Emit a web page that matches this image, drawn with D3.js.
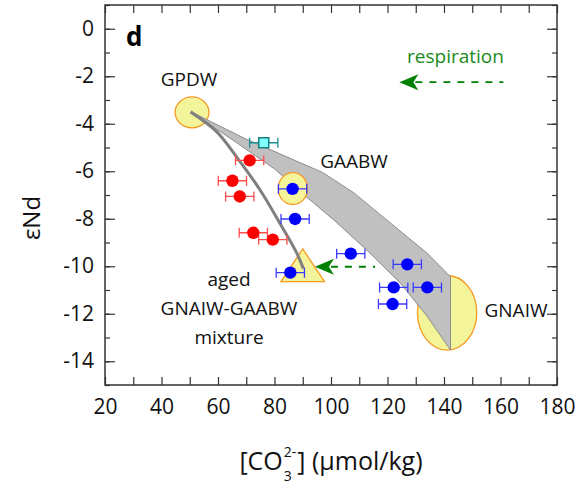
<html>
<head>
<script src="https://cdn.jsdelivr.net/npm/d3@7"></script>
<style>
  body { margin: 0; background: #fff; }
  text { font-family: "Open Sans", sans-serif; }
</style>
</head>
<body>
<script>
// values
const redX = [71.2, 65.1, 67.7, 72.5, 79.4];
const redY = [-5.54, -6.4, -7.06, -8.59, -8.88];
const blueX = [86.4, 87.3, 107.0, 127.0, 85.6, 122.2, 134.1, 121.8];
const blueY = [-6.74, -8.01, -9.47, -9.92, -10.27, -10.89, -10.89, -11.59];
const cyanX = [76.2];
const cyanY = [-4.8];
const xErr = 5;

// end members: centre and half ranges
const endNames = ["GPDW", "GAABW", "GNAIW"];
const endX = [50.8, 86.5, 141.1];
const endY = [-3.52, -6.73, -11.96];
const endXr = [6.0, 5.2, 10.5];
const endYr = [0.65, 0.67, 1.57];

// aged mixture (triangle)
const mixX = 90, mixXr = 7.7, mixTop = -9.27, mixBottom = -10.65;

// mixing band between GPDW and GNAIW
const bandUpper = [[50.5, -3.5], [70, -4.65], [97, -6.05], [108, -6.9], [134, -9.45], [142.3, -10.45]];
const bandLower = [[50.5, -3.5], [66, -4.75], [80, -5.9], [91, -7.05], [101, -8.05], [112.5, -9.3], [124.5, -10.7], [134, -12.1], [142.3, -13.53]];

// mixing curve GPDW -> aged mixture
const mixCurve = [[50.3, -3.5], [59.5, -4.33], [67.2, -5.5], [74.9, -6.79], [81.9, -8.19], [87.9, -9.45], [90.2, -10.1]];

// respiration arrows: [from x, to x, y]
const arrows = [[161, 124.2, -2.25], [115.6, 94.3, -10.02]];

const xTicks = d3.range(20, 181, 10);
const yTicks = d3.range(-14, 1, 2);
const yMinor = d3.range(-15, 2, 1);

const width = 586, height = 493;
const svg = d3.select("body").append("svg")
  .attr("width", width)
  .attr("height", height);

const x = d3.scaleLinear().domain([20, 180]).range([105, 557]);
const y = d3.scaleLinear().domain([-15, 1]).range([385, 5]);

const yellow = "#f4f49a", orange = "#f59a23";

function ellipse(i) {
  svg.append("ellipse")
    .attr("cx", x(endX[i]))
    .attr("cy", y(endY[i]))
    .attr("rx", x(endX[i] + endXr[i]) - x(endX[i]))
    .attr("ry", y(endY[i]) - y(endY[i] + endYr[i]))
    .attr("fill", yellow)
    .attr("stroke", orange)
    .attr("stroke-width", 1.3);
}

// ellipses behind the band
ellipse(0);
ellipse(2);

// gray band
const line = d3.line().x(d => x(d[0])).y(d => y(d[1]));
const bandPts = bandUpper.concat(bandLower.slice().reverse());
svg.append("path")
  .attr("d", line(bandPts) + "Z")
  .attr("fill", "#c0c0c0")
  .attr("stroke", "#8c8c8c")
  .attr("stroke-width", 1);

ellipse(1);

// triangle
svg.append("path")
  .attr("d", line([[mixX, mixTop], [mixX + mixXr, mixBottom], [mixX - mixXr, mixBottom]]) + "Z")
  .attr("fill", yellow)
  .attr("stroke", orange)
  .attr("stroke-width", 1.3);

// mixing curve
svg.append("path")
  .attr("d", line.curve(d3.curveCatmullRom)(mixCurve))
  .attr("fill", "none")
  .attr("stroke", "#7f7f7f")
  .attr("stroke-width", 3);
line.curve(d3.curveLinear);

// arrows
arrows.forEach(a => {
  const tx = x(a[1]), ty = y(a[2]);
  svg.append("line")
    .attr("x1", tx + 16).attr("x2", x(a[0]))
    .attr("y1", ty).attr("y2", ty)
    .attr("stroke", "#008000")
    .attr("stroke-width", 1.8)
    .attr("stroke-dasharray", "7,7");
  svg.append("path")
    .attr("d", `M${tx},${ty} L${tx + 19},${ty - 8} L${tx + 14},${ty} L${tx + 19},${ty + 8} Z`)
    .attr("fill", "#008000");
});

svg.append("text")
  .attr("x", 455.5).attr("y", 63)
  .attr("text-anchor", "middle")
  .attr("font-size", 19)
  .attr("fill", "#1a8a1a")
  .text("respiration");

// error bars + points
function errBars(xs, ys, col) {
  xs.forEach((v, i) => {
    const cy = y(ys[i]);
    svg.append("path")
      .attr("d", `M${x(v - xErr)},${cy} H${x(v + xErr)} M${x(v - xErr)},${cy - 5} V${cy + 5} M${x(v + xErr)},${cy - 5} V${cy + 5}`)
      .attr("fill", "none")
      .attr("stroke", col)
      .attr("stroke-width", 1.3);
  });
}

errBars(redX, redY, "#ff4d4d");
errBars(blueX, blueY, "#3b3bff");
errBars(cyanX, cyanY, "#1a9090");

svg.selectAll(".red").data(redX).enter().append("circle")
  .attr("cx", d => x(d))
  .attr("cy", (d, i) => y(redY[i]))
  .attr("r", 6.2)
  .attr("fill", "#ff0000");

svg.selectAll(".blue").data(blueX).enter().append("circle")
  .attr("cx", d => x(d))
  .attr("cy", (d, i) => y(blueY[i]))
  .attr("r", 6.2)
  .attr("fill", "#0000ff");

svg.selectAll(".cyan").data(cyanX).enter().append("rect")
  .attr("x", d => x(d) - 5)
  .attr("y", (d, i) => y(cyanY[i]) - 5)
  .attr("width", 10).attr("height", 10)
  .attr("fill", "#80ffff")
  .attr("stroke", "#168080")
  .attr("stroke-width", 1.5);

// labels
const labels = [
  ["GPDW", 189, 86], ["GAABW", 354, 168], ["GNAIW", 516, 317],
  ["aged", 229, 286], ["GNAIW-GAABW", 229, 315], ["mixture", 229, 344]
];
labels.forEach(l => {
  svg.append("text")
    .attr("x", l[1]).attr("y", l[2])
    .attr("text-anchor", "middle")
    .attr("font-size", 19)
    .attr("fill", "#111")
    .text(l[0]);
});

svg.append("text")
  .attr("x", 126).attr("y", 46)
  .attr("font-family", "Liberation Sans, Arial, sans-serif")
  .attr("font-weight", "bold")
  .attr("font-size", 26)
  .text("d");

// axes
const axisCol = "#333";
svg.append("g")
  .attr("transform", "translate(0,385)")
  .call(d3.axisBottom(x).tickValues(xTicks).tickSize(-8).tickPadding(14)
    .tickFormat(d => d % 20 === 0 ? d : ""));
svg.append("g")
  .attr("transform", "translate(0,5)")
  .call(d3.axisTop(x).tickValues(xTicks).tickSize(-8).tickFormat(""));
svg.append("g")
  .attr("transform", "translate(105,0)")
  .call(d3.axisLeft(y).tickValues(yMinor).tickSize(-5).tickFormat(""));
svg.append("g")
  .attr("transform", "translate(105,0)")
  .call(d3.axisLeft(y).tickValues(yTicks).tickSize(-10).tickPadding(11).tickFormat(d => String(d)));
svg.append("g")
  .attr("transform", "translate(557,0)")
  .call(d3.axisRight(y).tickValues(yMinor).tickSize(-5).tickFormat(""));
svg.append("g")
  .attr("transform", "translate(557,0)")
  .call(d3.axisRight(y).tickValues(yTicks).tickSize(-10).tickFormat(""));

svg.selectAll(".domain").remove();
svg.selectAll(".tick line").attr("stroke", axisCol).attr("stroke-width", 1.2);
svg.selectAll(".tick text")
  .attr("font-family", "Open Sans, sans-serif")
  .attr("font-size", 21)
  .attr("fill", "#111");

svg.append("rect")
  .attr("x", 105).attr("y", 5)
  .attr("width", 452).attr("height", 380)
  .attr("fill", "none")
  .attr("stroke", axisCol)
  .attr("stroke-width", 1.5);

// axis titles
svg.append("text")
  .attr("transform", "translate(40,218) rotate(-90)")
  .attr("text-anchor", "middle")
  .attr("font-size", 24)
  .attr("fill", "#111")
  .text("εNd");

// x title: one text, stacked sub/superscript via tspans
const xt = svg.append("text").attr("font-size", 25).attr("fill", "#111").attr("y", 470);
const t1 = xt.append("tspan").text("[CO");
const w1 = t1.node().getComputedTextLength();
const sup = xt.append("tspan").attr("x", w1 + 1).attr("y", 457).attr("font-size", 14).text("2-");
const ws = sup.node().getComputedTextLength();
const sub = xt.append("tspan").attr("x", w1 + 1).attr("y", 481).attr("font-size", 14).text("3");
const wb = sub.node().getComputedTextLength();
const w2 = Math.max(ws, wb);
const t3 = xt.append("tspan").attr("x", w1 + w2 + 2).attr("y", 470).text("] (μmol/kg)");
const total = w1 + w2 + 2 + t3.node().getComputedTextLength();
xt.attr("transform", `translate(${331 - total / 2},0)`);
</script>
</body>
</html>
